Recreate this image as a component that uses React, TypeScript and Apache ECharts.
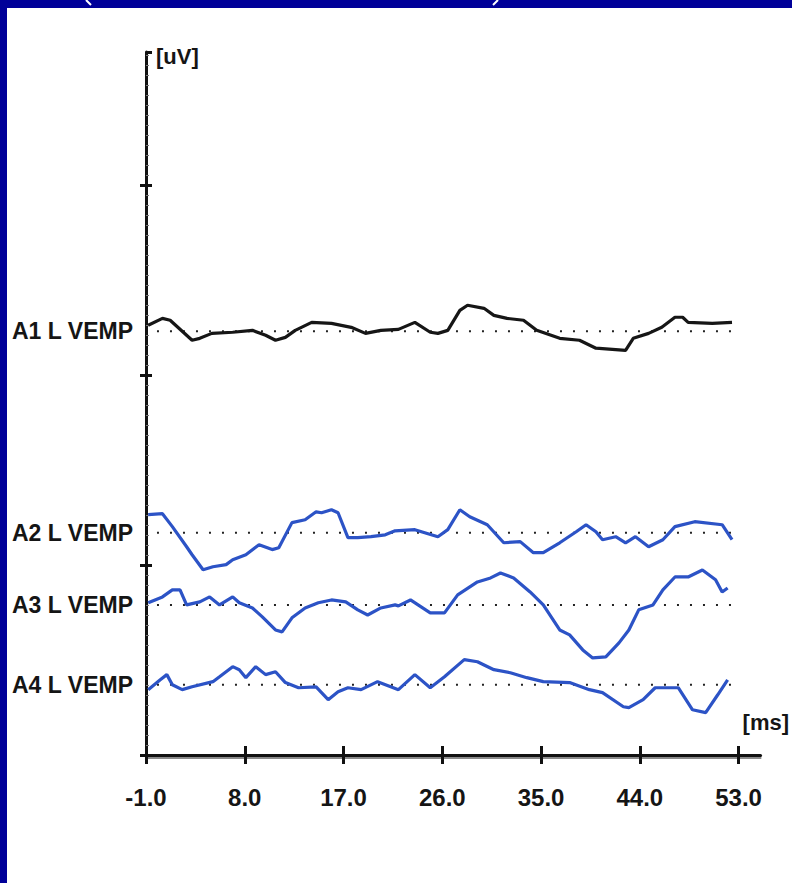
import React, { useEffect, useRef } from "react";
import * as echarts from "echarts";

// ---- data ----
const traceNames = ["A1 L VEMP", "A2 L VEMP", "A3 L VEMP", "A4 L VEMP"];
const baselines = [22.3, 11.7, 7.9, 3.7]; // y position of each trace's zero line
const xTicks = [-1, 8, 17, 26, 35, 44, 53]; // ms
const yTicks = [0, 10, 20, 30];

// [ms, deviation] pairs
const a1: number[][] = [
  [-0.8, 0.32], [0.5, 0.68], [1.2, 0.58], [3.2, -0.47], [3.9, -0.37], [5.0, -0.11],
  [6.9, -0.05], [8.7, 0.05], [9.9, -0.21], [10.8, -0.47], [11.7, -0.32], [12.6, 0.05],
  [14.1, 0.47], [15.9, 0.42], [17.7, 0.21], [19.0, -0.11], [20.4, 0.05], [22.0, 0.1],
  [23.5, 0.47], [24.9, -0.05], [25.6, -0.11], [26.5, 0.05], [27.6, 1.1], [28.3, 1.37],
  [29.8, 1.21], [30.7, 0.84], [31.9, 0.68], [33.4, 0.58], [34.6, 0.05], [36.7, -0.37],
  [38.5, -0.47], [40.0, -0.89], [42.7, -1.0], [43.4, -0.37], [44.8, -0.11], [46.0, 0.21],
  [47.2, 0.74], [47.9, 0.74], [48.4, 0.47], [50.6, 0.42], [52.4, 0.47],
];
const a2: number[][] = [
  [-0.8, 0.95], [0.5, 1.0], [1.4, 0.32], [2.7, -0.74], [3.2, -1.16], [4.2, -1.95],
  [5.1, -1.79], [6.3, -1.68], [6.9, -1.42], [8.1, -1.16], [9.3, -0.63], [10.5, -0.89],
  [11.1, -0.79], [12.3, 0.53], [13.5, 0.68], [14.5, 1.1], [15.0, 1.05], [15.9, 1.21],
  [16.5, 1.05], [17.4, -0.26], [18.3, -0.26], [19.5, -0.21], [20.8, -0.11], [21.7, 0.1],
  [23.5, 0.16], [25.6, -0.21], [26.5, 0.16], [27.6, 1.21], [28.5, 0.84], [30.1, 0.42],
  [31.6, -0.53], [33.1, -0.47], [34.3, -1.05], [35.2, -1.05], [36.7, -0.53], [38.2, 0.05],
  [39.1, 0.42], [40.0, 0.05], [40.6, -0.37], [41.8, -0.21], [42.7, -0.53], [43.6, -0.21],
  [44.8, -0.74], [46.1, -0.37], [47.2, 0.32], [49.0, 0.58], [51.5, 0.42], [52.4, -0.37],
];
const a3: number[][] = [
  [-0.8, 0.11], [0.5, 0.42], [1.4, 0.79], [2.1, 0.79], [2.7, 0.0], [3.9, 0.16],
  [4.8, 0.42], [5.7, 0.0], [6.9, 0.42], [7.5, 0.11], [8.7, -0.16], [9.6, -0.63],
  [10.8, -1.32], [11.4, -1.42], [12.3, -0.68], [13.5, -0.16], [14.7, 0.11], [15.9, 0.26],
  [17.2, 0.16], [18.3, -0.26], [19.2, -0.53], [20.4, -0.16], [21.7, 0.0], [22.0, -0.05],
  [23.1, 0.26], [24.9, -0.42], [26.2, -0.42], [27.4, 0.53], [29.2, 1.21], [30.4, 1.42],
  [31.3, 1.68], [32.5, 1.42], [34.0, 0.68], [35.2, 0.0], [36.7, -1.32], [37.6, -1.58],
  [38.8, -2.37], [39.7, -2.79], [40.9, -2.74], [42.1, -2.0], [43.0, -1.32], [43.9, -0.26],
  [45.2, 0.0], [46.1, 0.79], [47.2, 1.47], [48.4, 1.47], [49.7, 1.84], [50.9, 1.32],
  [51.5, 0.68], [52.0, 0.89],
];
const a4: number[][] = [
  [-0.8, -0.26], [0.3, 0.26], [0.9, 0.53], [1.4, 0.0], [2.3, -0.26], [3.2, -0.11],
  [5.1, 0.16], [5.7, 0.42], [6.9, 0.95], [7.5, 0.79], [8.1, 0.37], [9.0, 0.95],
  [9.9, 0.53], [10.8, 0.68], [11.7, 0.11], [12.9, -0.16], [14.5, -0.11], [15.6, -0.79],
  [16.5, -0.37], [17.4, -0.16], [18.6, -0.26], [20.1, 0.16], [21.3, -0.11], [22.0, -0.26],
  [23.5, 0.53], [24.9, -0.16], [26.2, 0.42], [28.0, 1.32], [29.2, 1.21], [30.7, 0.79],
  [32.2, 0.63], [33.7, 0.37], [35.2, 0.16], [37.6, 0.11], [39.4, -0.26], [40.6, -0.42],
  [42.5, -1.16], [43.0, -1.21], [44.3, -0.79], [45.4, -0.16], [47.5, -0.16], [48.8, -1.32],
  [50.0, -1.47], [51.1, -0.53], [52.0, 0.26],
];
const traces = [a1, a2, a3, a4];
const traceColors = ["#161616", "#2c53c6", "#2c53c6", "#2c53c6"];
const baselineSpan = [0, 53];

const FONT = "'Liberation Sans', Arial, sans-serif";

export default function App() {
  const ref = useRef<HTMLDivElement>(null);
  useEffect(() => {
    document.body.style.margin = "0";
    if (!ref.current) return;
    const chart = echarts.init(ref.current, null, { renderer: "svg" });

    const series: any[] = [];
    traces.forEach((t, i) => {
      series.push({
        type: "line",
        name: traceNames[i] + " zero",
        data: baselineSpan.map((x) => [x, baselines[i]]),
        showSymbol: false,
        silent: true,
        lineStyle: { color: "#222", width: 2, type: [2, 11] },
        z: 1,
      });
      series.push({
        type: "line",
        name: traceNames[i],
        data: t.map((p) => [p[0], baselines[i] + p[1]]),
        showSymbol: false,
        lineStyle: { color: traceColors[i], width: 3.2 },
        z: 3,
      });
    });

    const labelFor = (v: number) => {
      const i = baselines.findIndex((b) => Math.abs(b - v) < 1e-6);
      return i >= 0 ? traceNames[i] : "";
    };

    chart.setOption({
      animation: false,
      backgroundColor: "#000099",
      graphic: [
        { type: "rect", z: -100, shape: { x: 7, y: 8, width: 785, height: 875 }, style: { fill: "#ffffff" } },
        { type: "line", shape: { x1: 86, y1: 0, x2: 91, y2: 5 }, style: { stroke: "#ffffff", lineWidth: 2 } },
        { type: "line", shape: { x1: 498, y1: 0, x2: 493, y2: 5 }, style: { stroke: "#ffffff", lineWidth: 2 } },
      ],
      grid: { left: 146, top: 52, width: 620, height: 703, containLabel: false },
      xAxis: [
        {
          type: "value",
          position: "bottom",
          min: -1,
          max: 55,
          axisLine: { show: true, onZero: false, lineStyle: { color: "#111", width: 3 } },
          axisTick: { show: true, customValues: xTicks, length: 9, lineStyle: { color: "#111", width: 3 } },
          axisLabel: {
            show: true,
            customValues: xTicks,
            formatter: (v: number) => v.toFixed(1),
            margin: 30,
            fontSize: 24,
            fontWeight: "bold",
            fontFamily: FONT,
            color: "#151515",
          },
          splitLine: { show: false },
          name: "[ms]",
          nameLocation: "end",
          nameGap: -18,
          nameTextStyle: { fontSize: 22, fontWeight: "bold", fontFamily: FONT, color: "#151515", align: "left", verticalAlign: "bottom", padding: [0, 0, 22, 0] },
        },
        {
          type: "value",
          position: "bottom",
          offset: 3,
          min: -1,
          max: 55,
          axisLine: { show: true, onZero: false, lineStyle: { color: "#8a8a8a", width: 2 } },
          axisTick: { show: true, inside: true, customValues: xTicks, length: 12, lineStyle: { color: "#111", width: 3 } },
          axisLabel: { show: false },
          splitLine: { show: false },
        },
      ],
      yAxis: [
        {
          type: "value",
          position: "left",
          min: 0,
          max: 37,
          interval: 10,
          axisLine: { show: true, onZero: false, lineStyle: { color: "#111", width: 3 } },
          axisTick: { show: true, length: 6, customValues: yTicks, lineStyle: { color: "#111", width: 3 } },
          axisLabel: {
            show: true,
            customValues: baselines,
            formatter: labelFor,
            margin: 13,
            fontSize: 23,
            fontWeight: "bold",
            fontFamily: FONT,
            color: "#151515",
          },
          splitLine: { show: false },
          name: "[uV]",
          nameLocation: "end",
          nameGap: 7,
          nameTextStyle: { fontSize: 22, fontWeight: "bold", fontFamily: FONT, color: "#151515", align: "left", verticalAlign: "top", padding: [0, 0, 0, 10] },
        },
        {
          type: "value",
          position: "left",
          min: 0,
          max: 37,
          interval: 10,
          axisLine: { show: false, onZero: false },
          axisTick: { show: true, inside: true, length: 6, lineStyle: { color: "#111", width: 3 } },
          minorTick: { show: true, splitNumber: 19, length: 3, lineStyle: { color: "#777", width: 1 } },
          axisLabel: { show: false },
          splitLine: { show: false },
        },
      ],
      series,
    });
    return () => chart.dispose();
  }, []);
  return <div ref={ref} style={{ width: 792, height: 883 }} />;
}
